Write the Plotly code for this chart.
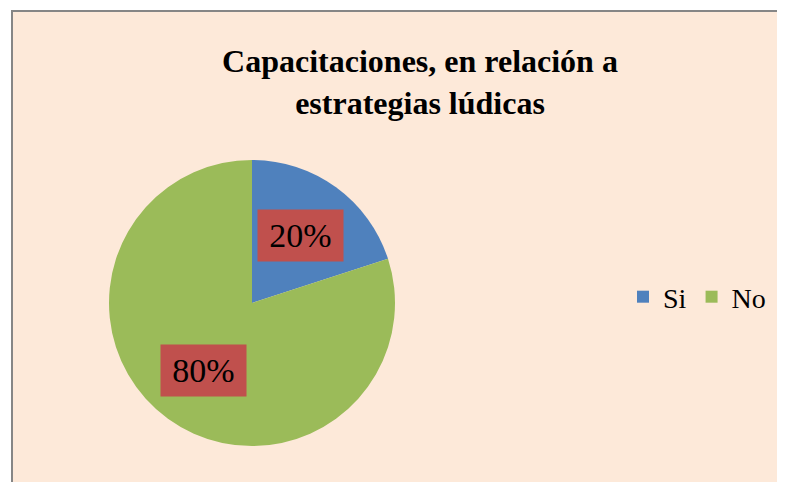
import math
import plotly.graph_objects as go

labels = ["Si", "No"]
values = [20, 80]
pct_text = ["20%", "80%"]
colors = ["#4F81BD", "#9BBB59"]

# page body has an 8px margin, so the figure is 8px smaller and shifted
OFF = 8
W, H = 785 - OFF, 482 - OFF
# pie placement in page pixels
cx, cy, R = 252 - OFF, 303 - OFF, 143

SERIF = "Liberation Serif, Times New Roman, serif"

fig = go.Figure()
fig.add_trace(go.Pie(
    labels=labels,
    values=values,
    sort=False,
    direction="clockwise",
    rotation=0,
    marker=dict(colors=colors, line=dict(width=0)),
    textinfo="none",
    hoverinfo="label+percent",
    domain=dict(x=[(cx - R) / W, (cx + R) / W], y=[1 - (cy + R) / H, 1 - (cy - R) / H]),
))

# data labels with red boxes, placed at slice mid-angle
total = sum(values)
start = 0
for v, t in zip(values, pct_text):
    mid = (start + v / 2) / total * 2 * math.pi
    start += v
    px = cx + 0.58 * R * math.sin(mid)
    py = cy - 0.58 * R * math.cos(mid)
    fig.add_annotation(
        x=px / W, y=1 - py / H, xref="paper", yref="paper",
        text=t, showarrow=False,
        font=dict(family=SERIF, size=34, color="black"),
        bgcolor="#C0504D", width=85, height=51, borderpad=0,
        xanchor="center", yanchor="middle",
    )

fig.update_layout(
    width=W, height=H,
    margin=dict(l=0, r=0, t=0, b=0),
    paper_bgcolor="white",
    plot_bgcolor="white",
    font=dict(family=SERIF, color="black"),
    title=dict(
        text="<b>Capacitaciones, en relación a<br>estrategias lúdicas</b>",
        x=(420 - OFF) / W, xanchor="center",
        y=1 - (72 - OFF) / H, yanchor="top",
        font=dict(family=SERIF, size=32, color="black"),
    ),
    showlegend=True,
    legend=dict(
        orientation="h",
        x=(623 - OFF) / W, xanchor="left",
        y=1 - (297 - OFF) / H, yanchor="middle",
        font=dict(family=SERIF, size=28, color="black"),
        bgcolor="rgba(0,0,0,0)",
        itemclick=False,
    ),
    shapes=[dict(
        type="rect", xref="paper", yref="paper",
        x0=(12 - OFF) / W, x1=(783 - OFF) / W, y0=-0.02, y1=1 - (11 - OFF) / H,
        fillcolor="#FDE9D9", line=dict(color="#868686", width=2),
        layer="below",
    )],
)

fig.write_html("out.html")
